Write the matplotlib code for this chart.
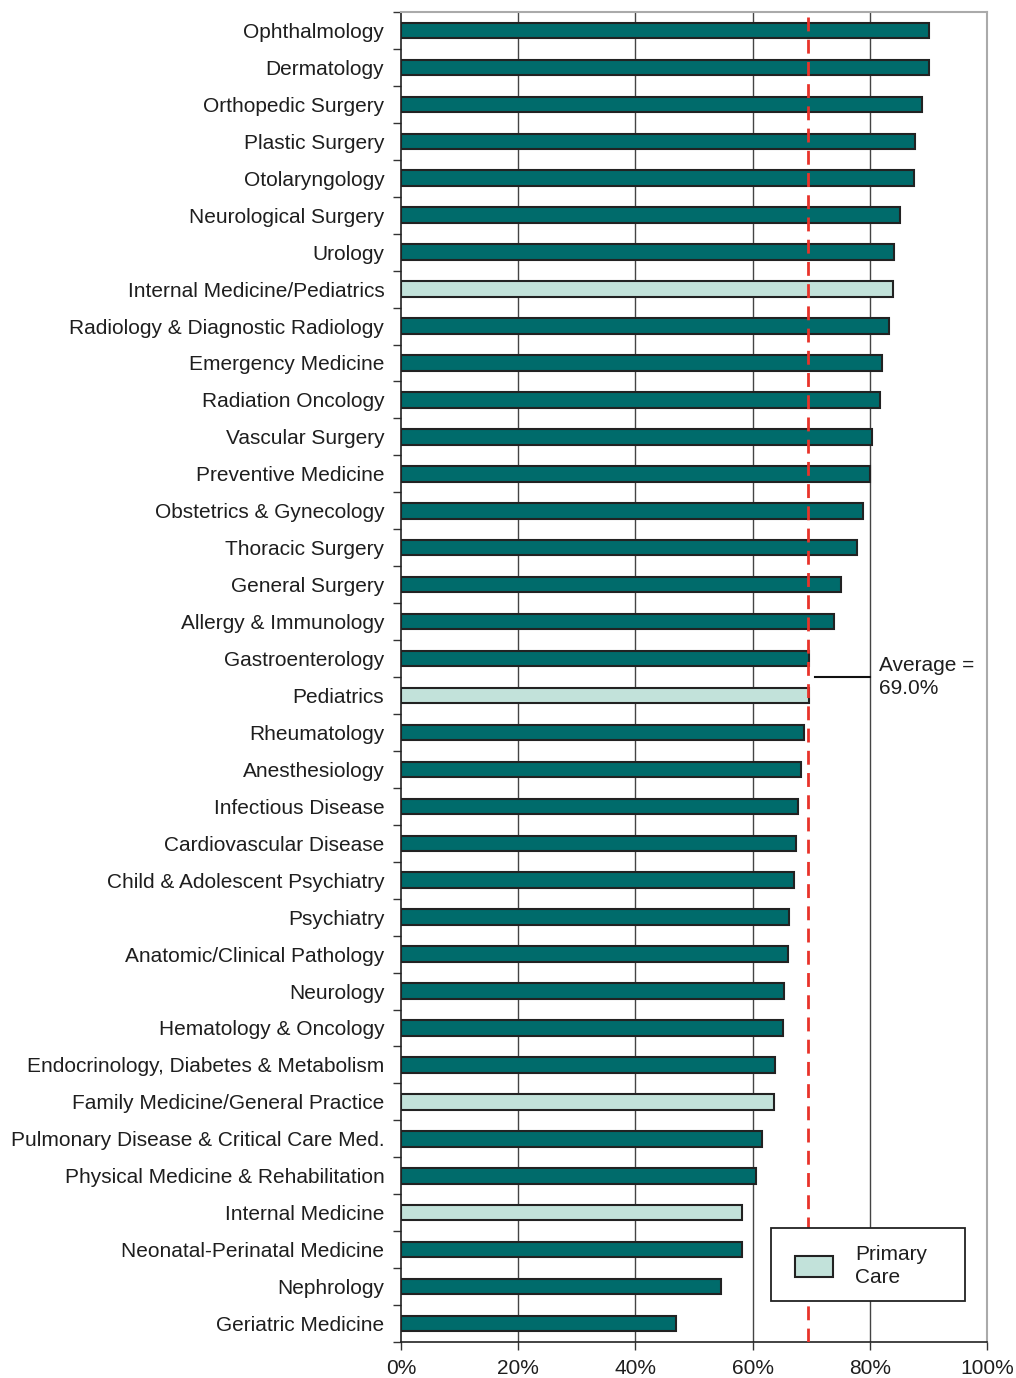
import numpy as np
import matplotlib
matplotlib.use("Agg")
import matplotlib.pyplot as plt
from matplotlib.patches import Rectangle

plt.rcParams['font.family'] = ['Liberation Sans', 'DejaVu Sans']

# specialties, top to bottom
specialties = [
    'Ophthalmology', 'Dermatology', 'Orthopedic Surgery', 'Plastic Surgery',
    'Otolaryngology', 'Neurological Surgery', 'Urology', 'Internal Medicine/Pediatrics',
    'Radiology & Diagnostic Radiology', 'Emergency Medicine', 'Radiation Oncology',
    'Vascular Surgery', 'Preventive Medicine', 'Obstetrics & Gynecology',
    'Thoracic Surgery', 'General Surgery', 'Allergy & Immunology', 'Gastroenterology',
    'Pediatrics', 'Rheumatology', 'Anesthesiology', 'Infectious Disease',
    'Cardiovascular Disease', 'Child & Adolescent Psychiatry', 'Psychiatry',
    'Anatomic/Clinical Pathology', 'Neurology', 'Hematology & Oncology',
    'Endocrinology, Diabetes & Metabolism', 'Family Medicine/General Practice',
    'Pulmonary Disease & Critical Care Med.', 'Physical Medicine & Rehabilitation',
    'Internal Medicine', 'Neonatal-Perinatal Medicine', 'Nephrology', 'Geriatric Medicine',
]
values = [
    90.1, 90.1, 88.9, 87.7, 87.5, 85.2, 84.1, 84.0, 83.3, 82.1, 81.7, 80.4,
    80.0, 78.8, 77.8, 75.1, 73.9, 69.6, 69.6, 68.8, 68.3, 67.7, 67.4, 67.1,
    66.2, 66.0, 65.4, 65.2, 63.8, 63.7, 61.6, 60.6, 58.2, 58.2, 54.6, 46.9,
]
primary_care = ['Internal Medicine/Pediatrics', 'Pediatrics',
                'Family Medicine/General Practice', 'Internal Medicine']
average = 69.4
average_label = 'Average =\n69.0%'
legend_label = 'Primary\nCare'
x_ticks = [0, 20, 40, 60, 80, 100]

dark = '#006b6b'
light = '#c2e2da'
txt_color = '#1e1e1e'
fs = 15

fig = plt.figure(figsize=(10.16, 13.78), dpi=100)
ax = fig.add_axes([0.3947, 0.0261, 0.5768, 0.9652])

n = len(specialties)
y = np.arange(n)
colors = [light if s in primary_care else dark for s in specialties]
ax.barh(y, values, height=0.42, color=colors, edgecolor='#222222', linewidth=1.5, zorder=3)

ax.set_ylim(n - 0.5, -0.5)
ax.set_xlim(0, 100)

ax.set_yticks(y)
ax.set_yticklabels(specialties, fontsize=fs, color=txt_color)
ax.tick_params(axis='y', which='major', length=0, pad=12)
ax.set_yticks(np.arange(-0.5, n, 1.0), minor=True)
ax.tick_params(axis='y', which='minor', length=6, width=1, color='#333333', direction='out')

ax.set_xticks(x_ticks)
ax.set_xticklabels([f'{t}%' for t in x_ticks], fontsize=fs, color=txt_color)
ax.tick_params(axis='x', length=6, width=1, color='#333333', pad=6)

for t in x_ticks[1:-1]:
    ax.axvline(t, color='#444444', linewidth=1, zorder=1)

for side in ['top', 'right']:
    ax.spines[side].set_color('#aaaaaa')
    ax.spines[side].set_linewidth(1.5)
for side in ['left', 'bottom']:
    ax.spines[side].set_color('#222222')
    ax.spines[side].set_linewidth(1.2)

ax.axvline(average, color='#e8332a', linewidth=2, linestyle=(0, (5, 3)), zorder=4)

# callout for the average
ax.plot([70.6, 80], [17.5, 17.5], color='#111111', linewidth=1.5, zorder=4)
ax.text(81.5, 17.5, average_label, fontsize=fs, color=txt_color, va='center', ha='left',
        linespacing=1.3)

# legend box, drawn by hand in axes coordinates
tr = ax.transAxes
ax.add_patch(Rectangle((0.6315, 0.0308), 0.3305, 0.0549, transform=tr, facecolor='white',
                       edgecolor='#222222', linewidth=1.3, zorder=6))
ax.add_patch(Rectangle((0.6724, 0.0490), 0.0648, 0.0155, transform=tr, facecolor=light,
                       edgecolor='#222222', linewidth=1.5, zorder=7))
ax.text(0.7750, 0.0572, legend_label, transform=tr, fontsize=fs, color=txt_color,
        va='center', ha='left', linespacing=1.3, zorder=8)

fig.savefig('out.png', dpi=100)
